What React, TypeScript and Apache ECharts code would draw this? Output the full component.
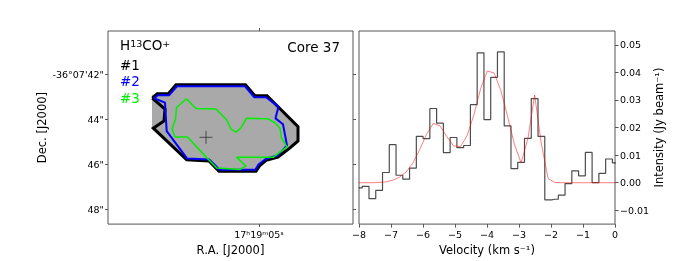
import React, { useEffect, useRef } from 'react';
import * as echarts from 'echarts';

// ---------- Spectrum (right panel) ----------
const VELOCITY = [
  -8.005, -7.793, -7.582, -7.371, -7.159, -6.948, -6.737, -6.526, -6.314, -6.103,
  -5.892, -5.68, -5.469, -5.258, -5.047, -4.835, -4.624, -4.413, -4.201, -3.99,
  -3.779, -3.568, -3.356, -3.145, -2.934, -2.722, -2.511, -2.3, -2.089, -1.877,
  -1.666, -1.455, -1.243, -1.032, -0.821, -0.61, -0.398, -0.187, 0.024,
];
const INTENSITY = [
  -0.0019, -0.0013, -0.0058, -0.0028, 0.0037, 0.0138, 0.0027, 0.0013, 0.0053, 0.0168,
  0.016, 0.0269, 0.0216, 0.0109, 0.0164, 0.0127, 0.0135, 0.0283, 0.0471, 0.0229,
  0.0382, 0.0474, 0.0206, 0.0051, 0.0074, 0.0161, 0.0305, 0.0168, -0.0062, -0.006,
  -0.0045, -0.0003, 0.0043, 0.0025, 0.011, 0.0, 0.0034, 0.0086, 0.0072,
];
const FIT = [
  0.0, 0.0, 0.0, 0.0001, 0.0003, 0.0009, 0.002, 0.0039, 0.0072, 0.012,
  0.0175, 0.0215, 0.0206, 0.0168, 0.0134, 0.013, 0.017, 0.0245, 0.034, 0.0405,
  0.0398, 0.0335, 0.024, 0.014, 0.0072, 0.016, 0.0318, 0.014, 0.0015, 0.0001,
  0.0, 0.0, 0.0, 0.0, 0.0, 0.0, 0.0, 0.0, 0.0,
];
const VEL_TICKS = [-8, -7, -6, -5, -4, -3, -2, -1, 0];
const INT_TICKS = [-0.01, 0.0, 0.01, 0.02, 0.03, 0.04, 0.05];

// ---------- Map (left panel) : [RA offset east of 17h19m05s (arcsec), Dec arcsec of -36°07'] ----------
const RA_TICKS = [0];
const RA_TICK_LABELS = ['17ʰ19ᵐ05ˢ'];
const DEC_TICKS = [42, 44, 46, 48];
const DEC_TICK_LABELS = ['-36°07\'42"', '44"', '46"', '48"'];

const EMISSION_MASK = [
  [4.652, 42.913], [4.422, 42.87], [3.943, 42.87], [3.609, 42.465], [0.587, 42.465],
  [0.174, 42.957], [-0.348, 42.957], [-1.696, 44.326], [-1.696, 44.957], [-1.348, 45.261],
  [-0.826, 45.674], [-0.304, 45.813], [-0.022, 46.065], [0.13, 46.304], [1.739, 46.304],
  [2.174, 45.848], [3.143, 45.796], [4.596, 44.391], [4.652, 44.391],
];
const CONTOUR_1 = [
  [4.639, 43.057], [4.422, 42.87], [3.943, 42.87], [3.609, 42.465], [0.587, 42.465],
  [0.174, 42.957], [-0.348, 42.957], [-1.696, 44.326], [-1.696, 44.957], [-1.348, 45.261],
  [-0.826, 45.674], [-0.304, 45.813], [-0.022, 46.065], [0.13, 46.304], [1.739, 46.304],
  [2.174, 45.848], [3.143, 45.796], [4.596, 44.391], [4.13, 44.074], [4.087, 43.552],
  [4.639, 43.057],
];
const CONTOUR_2 = [
  [4.565, 43.065], [4.391, 42.935], [3.913, 42.935], [3.565, 42.535], [0.609, 42.535],
  [0.204, 43.022], [-0.304, 43.022], [-0.848, 43.435], [-0.717, 43.957], [-1.043, 44.217],
  [-1.217, 45.152], [-0.826, 45.587], [-0.304, 45.748], [0.022, 46.0], [0.161, 46.23],
  [1.717, 46.23], [2.152, 45.783], [3.13, 45.73], [4.013, 44.522], [4.087, 43.261],
  [4.565, 43.065],
];
const CONTOUR_3 = [
  [3.152, 43.087], [3.587, 43.478], [3.63, 44.0], [3.783, 44.413], [3.652, 44.783],
  [3.109, 44.783], [2.274, 45.696], [1.839, 46.152], [0.826, 46.217], [0.565, 46.065],
  [0.978, 45.674], [-0.622, 45.674], [-1.217, 45.217], [-0.978, 44.826], [-0.913, 44.391],
  [-0.696, 44.152], [-0.391, 43.978], [0.543, 43.957], [0.783, 44.37], [1.0, 44.565],
  [1.217, 44.435], [1.391, 44.043], [1.87, 43.543], [2.739, 43.522], [3.152, 43.087],
];
const PEAK = [[2.304, 44.796]];

const FONT = 'DejaVu Sans';
const RA_MIN = -4.087;
const RA_MAX = 6.565;
const DEC_MIN = 40.087;
const DEC_MAX = 48.64;
const SPINE = '#555';

const fmtMinus = (v: number, d: number) => {
  const s = Math.abs(v).toFixed(d);
  return v < 0 ? '\u2212' + s : s;
};

const noLine = { show: false, onZero: false };

export default function App() {
  const ref = useRef<HTMLDivElement>(null);
  useEffect(() => {
    if (!ref.current) return;
    const chart = echarts.init(ref.current, undefined, { renderer: 'svg' });
    const option: any = {
      animation: false,
      textStyle: { fontFamily: FONT },
      grid: [
        { left: 108, top: 31, width: 245, height: 197, show: true, borderColor: SPINE, borderWidth: 1, backgroundColor: 'transparent' },
        { left: 359, top: 31, width: 256, height: 197, show: true, borderColor: SPINE, borderWidth: 1, backgroundColor: 'transparent' },
      ],
      xAxis: [
        {
          gridIndex: 0, type: 'value', min: RA_MIN, max: RA_MAX, inverse: true, position: 'bottom',
          axisLine: noLine, splitLine: { show: false },
          axisTick: { show: true, inside: false, length: 3, customValues: RA_TICKS, lineStyle: { color: SPINE } },
          axisLabel: {
            customValues: RA_TICKS, fontSize: 9.5, color: '#000', margin: 5, fontFamily: FONT,
            formatter: (v: number) => RA_TICK_LABELS[RA_TICKS.indexOf(v)] ?? '',
          },
          name: 'R.A. [J2000]', nameLocation: 'middle', nameGap: 16,
          nameTextStyle: { fontSize: 11.5, color: '#000', fontFamily: FONT },
        },
        {
          gridIndex: 0, type: 'value', min: RA_MIN, max: RA_MAX, inverse: true, position: 'top',
          axisLine: noLine, splitLine: { show: false },
          axisTick: { show: true, inside: false, length: 3, customValues: RA_TICKS, lineStyle: { color: SPINE } },
          axisLabel: { show: false },
        },
        {
          gridIndex: 1, type: 'value', min: -8, max: 0, interval: 1, position: 'bottom',
          axisLine: noLine, splitLine: { show: false },
          axisTick: { show: true, inside: false, length: 3.5, customValues: VEL_TICKS, lineStyle: { color: SPINE } },
          axisLabel: { customValues: VEL_TICKS, fontSize: 9.5, color: '#000', margin: 5, fontFamily: FONT, formatter: (v: number) => fmtMinus(v, 0) },
          name: 'Velocity (km s⁻¹)', nameLocation: 'middle', nameGap: 16,
          nameTextStyle: { fontSize: 11.5, color: '#000', fontFamily: FONT },
        },
      ],
      yAxis: [
        {
          gridIndex: 0, type: 'value', min: DEC_MIN, max: DEC_MAX, inverse: true, position: 'left',
          axisLine: noLine, splitLine: { show: false },
          axisTick: { show: true, inside: false, length: 3, customValues: DEC_TICKS, lineStyle: { color: SPINE } },
          axisLabel: {
            customValues: DEC_TICKS, fontSize: 9.5, color: '#000', margin: 4, fontFamily: FONT,
            formatter: (v: number) => DEC_TICK_LABELS[DEC_TICKS.indexOf(v)] ?? '',
          },
          name: 'Dec. [J2000]', nameLocation: 'middle', nameGap: 60, nameRotate: 90,
          nameTextStyle: { fontSize: 11.5, color: '#000', fontFamily: FONT },
        },
        {
          gridIndex: 0, type: 'value', min: DEC_MIN, max: DEC_MAX, inverse: true, position: 'right',
          axisLine: noLine, splitLine: { show: false },
          axisTick: { show: true, inside: false, length: 3, customValues: DEC_TICKS, lineStyle: { color: SPINE } },
          axisLabel: { show: false },
        },
        {
          gridIndex: 1, type: 'value', min: -0.015, max: 0.055, position: 'right',
          axisLine: noLine, splitLine: { show: false },
          axisTick: { show: true, inside: false, length: 3.5, customValues: INT_TICKS, lineStyle: { color: SPINE } },
          axisLabel: {
            customValues: INT_TICKS, fontSize: 9.5, color: '#000', margin: 5, fontFamily: FONT,
            formatter: (v: number) => fmtMinus(v, 2),
          },
          name: 'Intensity (Jy beam⁻¹)', nameLocation: 'middle', nameGap: 34, nameRotate: 90,
          nameTextStyle: { fontSize: 11.5, color: '#000', fontFamily: FONT },
        },
      ],
      series: [
        {
          type: 'custom', xAxisIndex: 0, yAxisIndex: 0, silent: true,
          data: [EMISSION_MASK[0]],
          renderItem: (_p: any, api: any) => ({
            type: 'polygon',
            shape: { points: EMISSION_MASK.map((p) => api.coord(p)) },
            style: { fill: '#a9a9a9', stroke: 'none' },
          }),
        },
        {
          type: 'line', xAxisIndex: 0, yAxisIndex: 0, data: CONTOUR_1, symbol: 'none', silent: true,
          lineStyle: { color: '#000', width: 3, join: 'miter' },
        },
        {
          type: 'line', xAxisIndex: 0, yAxisIndex: 0, data: CONTOUR_2, symbol: 'none', silent: true,
          lineStyle: { color: '#0000ff', width: 2 },
        },
        {
          type: 'line', xAxisIndex: 0, yAxisIndex: 0, data: CONTOUR_3, symbol: 'none', silent: true,
          lineStyle: { color: '#00ee00', width: 1.5 },
        },
        {
          type: 'scatter', xAxisIndex: 0, yAxisIndex: 0, data: PEAK, silent: true,
          symbol: 'path://M0 -10 L0 10 M-10 0 L10 0', symbolSize: 13,
          itemStyle: { color: 'rgba(0,0,0,0)', borderColor: '#333', borderWidth: 1 },
        },
        {
          type: 'line', xAxisIndex: 2, yAxisIndex: 2, step: 'middle', symbol: 'none', silent: true,
          data: VELOCITY.map((v, i) => [v, INTENSITY[i]]),
          lineStyle: { color: 'rgba(0,0,0,0.7)', width: 1.2 },
        },
        {
          type: 'line', xAxisIndex: 2, yAxisIndex: 2, symbol: 'none', silent: true,
          data: VELOCITY.map((v, i) => [v, FIT[i]]),
          lineStyle: { color: 'rgba(255,0,0,0.5)', width: 1 },
        },
      ],
      graphic: [
        {
          type: 'text', left: 120, top: 38,
          style: {
            text: '{m|H}{s|13}{m|CO}{s|+}',
            rich: {
              m: { fontSize: 13.5, fontFamily: FONT, fill: '#000', verticalAlign: 'bottom' },
              s: { fontSize: 9.5, fontFamily: FONT, fill: '#000', verticalAlign: 'top' },
            },
          },
        },
        { type: 'text', right: 344, top: 40, style: { text: 'Core 37', fontSize: 13.5, fontFamily: FONT, fill: '#000' } },
        { type: 'text', left: 120, top: 57.5, style: { text: '#1', fontSize: 13.5, fontFamily: FONT, fill: '#000' } },
        { type: 'text', left: 120, top: 74, style: { text: '#2', fontSize: 13.5, fontFamily: FONT, fill: '#0000ff' } },
        { type: 'text', left: 120, top: 90.5, style: { text: '#3', fontSize: 13.5, fontFamily: FONT, fill: '#00ee00' } },
      ],
    };
    chart.setOption(option);
    return () => chart.dispose();
  }, []);
  return <div ref={ref} style={{ position: 'fixed', left: 0, top: 0, width: 684, height: 261 }} />;
}
